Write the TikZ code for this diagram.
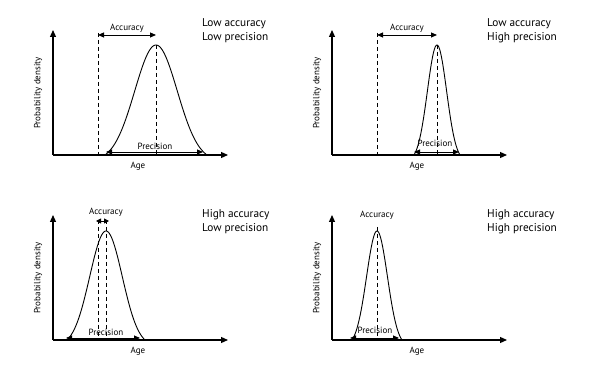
\documentclass[tikz,border=0pt]{standalone}
\usepackage{fontspec}
\setmainfont{PT Sans}
\usetikzlibrary{arrows.meta}
\tikzset{
  axis/.style={line width=1.2pt, -{Triangle[length=7pt,width=6pt]}},
  guide/.style={line width=0.8pt, dash pattern=on 4pt off 3pt},
  span/.style={line width=0.9pt, {Triangle[length=6pt,width=5pt]}-{Triangle[length=6pt,width=5pt]}},
  curve/.style={line width=0.9pt},
  small/.style={font=\fontsize{9}{11}\selectfont, inner sep=1pt},
  title/.style={font=\fontsize{11.3}{13}\selectfont, anchor=west, inner sep=0pt},
}

\begin{document}
\begin{tikzpicture}[x=1pt,y=1pt]
\useasboundingbox (0,0) rectangle (594,366);


% low accuracy, low precision
\begin{scope}[shift={(53,211)}]
\coordinate (o) at (0,0);
\coordinate (ytop) at (0,125);
\coordinate (xend) at (175,0);
\draw[axis] (o) -- (ytop);
\draw[axis] (o) -- (xend);
\node[small, rotate=90] (ylab) at (-15,62) {Probability density};
\node[small] (xlab) at (85,-11) {Age};
\node[title] (t1) at (149,131) {Low accuracy};
\node[title] (t2) at (149,117) {Low precision};
\coordinate (true0) at (45,0);
\coordinate (true1) at (45,122);
\coordinate (mean0) at (103,0);
\coordinate (mean1) at (103,110);
\draw[guide] (true1) -- (true0);
\draw[guide] (mean1) -- (mean0);
\draw[curve] plot[domain=-51:51, samples=80]
  ({103+\x}, {110*(exp(-0.5*(2.4*\x/51)^2)-0.0561)/0.9439});
\coordinate (acc0) at (45,120);
\coordinate (acc1) at (103,120);
\draw[span] (acc0) -- (acc1);
\node[small] (acc) at (74,127) {Accuracy};
\coordinate (pre0) at (53,3);
\coordinate (pre1) at (150,3);
\draw[span] (pre0) -- (pre1);
\node[small] (pre) at (102,9) {Precision};
\end{scope}


% low accuracy, high precision
\begin{scope}[shift={(332,211)}]
\coordinate (o) at (0,0);
\coordinate (ytop) at (0,125);
\coordinate (xend) at (175,0);
\draw[axis] (o) -- (ytop);
\draw[axis] (o) -- (xend);
\node[small, rotate=90] (ylab) at (-15,62) {Probability density};
\node[small] (xlab) at (85,-11) {Age};
\node[title] (t1) at (155,131) {Low accuracy};
\node[title] (t2) at (155,117) {High precision};
\coordinate (true0) at (45,0);
\coordinate (true1) at (45,122);
\coordinate (mean0) at (105,0);
\coordinate (mean1) at (105,110);
\draw[guide] (true1) -- (true0);
\draw[guide] (mean1) -- (mean0);
\draw[curve] plot[domain=-23:23, samples=60]
  ({105+\x}, {110*(exp(-0.5*(2.4*\x/23)^2)-0.0561)/0.9439});
\coordinate (acc0) at (45,120);
\coordinate (acc1) at (105,120);
\draw[span] (acc0) -- (acc1);
\node[small] (acc) at (75,127) {Accuracy};
\coordinate (pre0) at (82,3);
\coordinate (pre1) at (127,3);
\draw[span] (pre0) -- (pre1);
\node[small] (pre) at (103,12) {Precision};
\end{scope}


% high accuracy, low precision
\begin{scope}[shift={(53,26)}]
\coordinate (o) at (0,0);
\coordinate (ytop) at (0,125);
\coordinate (xend) at (175,0);
\draw[axis] (o) -- (ytop);
\draw[axis] (o) -- (xend);
\node[small, rotate=90] (ylab) at (-15,62) {Probability density};
\node[small] (xlab) at (85,-11) {Age};
\node[title] (t1) at (149,125) {High accuracy};
\node[title] (t2) at (149,111) {Low precision};
\coordinate (true0) at (45,0);
\coordinate (true1) at (45,120);
\coordinate (mean0) at (53,0);
\coordinate (mean1) at (53,120);
\draw[guide] (true1) -- (true0);
\draw[guide] (mean1) -- (mean0);
\draw[curve] plot[domain=-39:39, samples=80]
  ({53+\x}, {109*(exp(-0.5*(2.4*\x/39)^2)-0.0561)/0.9439});
\coordinate (acc0) at (43,119);
\coordinate (acc1) at (56,119);
\draw[span, {Triangle[length=5pt,width=5pt]}-{Triangle[length=5pt,width=5pt]}] (acc0) -- (acc1);
\node[small] (acc) at (53,128) {Accuracy};
\coordinate (pre0) at (13,2);
\coordinate (pre1) at (87,2);
\draw[span] (pre0) -- (pre1);
\node[small] (pre) at (53,8) {Precision};
\end{scope}


% high accuracy, high precision
\begin{scope}[shift={(332,26)}]
\coordinate (o) at (0,0);
\coordinate (ytop) at (0,125);
\coordinate (xend) at (175,0);
\draw[axis] (o) -- (ytop);
\draw[axis] (o) -- (xend);
\node[small, rotate=90] (ylab) at (-15,62) {Probability density};
\node[small] (xlab) at (85,-11) {Age};
\node[title] (t1) at (155,125) {High accuracy};
\node[title] (t2) at (155,111) {High precision};
\coordinate (mean0) at (45,0);
\coordinate (mean1) at (45,113);
\draw[guide] (mean1) -- (mean0);
\draw[curve] plot[domain=-25:25, samples=60]
  ({45+\x}, {109*(exp(-0.5*(2.4*\x/25)^2)-0.0561)/0.9439});
\node[small] (acc) at (45,125) {Accuracy};
\coordinate (pre0) at (18,2);
\coordinate (pre1) at (67,2);
\draw[span] (pre0) -- (pre1);
\node[small] (pre) at (43,10) {Precision};
\end{scope}

\end{tikzpicture}
\end{document}
